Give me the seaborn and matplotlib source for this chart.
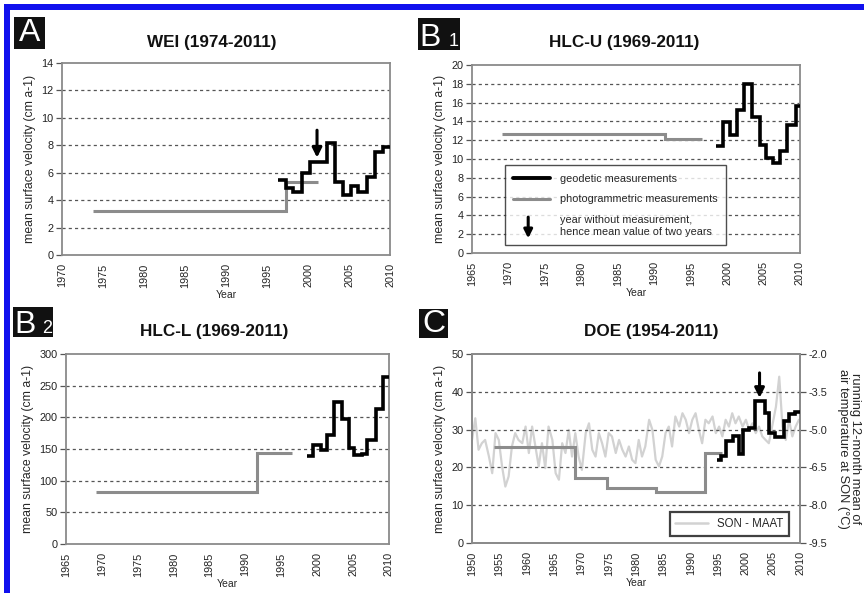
import numpy as np
import pandas as pd
import matplotlib
matplotlib.use("Agg")
import matplotlib.pyplot as plt
import seaborn as sns
from matplotlib.patches import Rectangle, FancyArrowPatch
from matplotlib.legend_handler import HandlerBase
from matplotlib.lines import Line2D
from matplotlib.ticker import MultipleLocator

# ---------------- data ----------------
# Panel A: WEI
a_geo_edges = [1996.3, 1997.3, 1998.2, 1999.3, 2000.2, 2002.3, 2003.3, 2004.3,
               2005.2, 2006.1, 2007.2, 2008.2, 2009.1, 2010.0]
a_geo_vals = [5.5, 4.9, 4.6, 6.0, 6.8, 8.2, 5.3, 4.4, 5.0, 4.6, 5.7, 7.5, 7.9]
a_photo_edges = [1973.8, 1997.3, 2001.2]
a_photo_vals = [3.2, 5.3]
a_arrow = (2001.1, 9.1, 7.1)

# Panel B1: HLC-U
b1_geo_edges = [1998.5, 1999.4, 2000.4, 2001.3, 2002.3, 2003.4, 2004.5, 2005.3,
                2006.3, 2007.2, 2008.2, 2009.4, 2010.0]
b1_geo_vals = [11.4, 13.9, 12.6, 15.2, 18.0, 14.5, 11.5, 10.1, 9.6, 10.8, 13.6, 15.6]
b1_photo_edges = [1969.1, 1991.5, 1996.6]
b1_photo_vals = [12.7, 12.1]

# Panel B2: HLC-L
b2_geo_edges = [1998.6, 1999.4, 2000.5, 2001.3, 2002.3, 2003.4, 2004.4, 2005.1,
                2006.2, 2007.0, 2008.2, 2009.2, 2010.0]
b2_geo_vals = [139, 156, 148, 172, 224, 197, 151, 140, 142, 164, 213, 263]
b2_photo_edges = [1969.2, 1991.6, 1996.5]
b2_photo_vals = [82, 144]

# Panel C: DOE
c_geo_edges = [1994.8, 1995.6, 1996.5, 1997.7, 1998.8, 1999.5, 2000.7, 2001.7,
               2003.6, 2004.3, 2005.4, 2007.0, 2008.0, 2009.0, 2010.0]
c_geo_vals = [21.9, 23.0, 27.0, 28.2, 23.5, 29.8, 30.3, 37.5, 34.3, 29.0, 28.0,
              32.2, 34.0, 34.6]
c_photo_edges = [1954.0, 1968.8, 1974.7, 1983.6, 1992.6, 1995.7]
c_photo_vals = [25.4, 17.3, 14.5, 13.4, 23.8]
c_arrow = (2002.6, 45.0, 38.4)

son_years = [
    1950.0, 1950.6, 1951.2, 1951.8, 1952.4, 1953.1, 1953.7, 1954.3, 1954.9, 1955.5,
    1956.1, 1956.7, 1957.3, 1957.9, 1958.5, 1959.2, 1959.8, 1960.4, 1961.0, 1961.6,
    1962.2, 1962.8, 1963.4, 1964.0, 1964.7, 1965.3, 1965.9, 1966.5, 1967.1, 1967.7,
    1968.3, 1968.9, 1969.5, 1970.1, 1970.8, 1971.4, 1972.0, 1972.6, 1973.2, 1973.8,
    1974.4, 1975.0, 1975.6, 1976.3, 1976.9, 1977.5, 1978.1, 1978.7, 1979.3, 1979.9,
    1980.5, 1981.1, 1981.7, 1982.4, 1983.0, 1983.6, 1984.2, 1984.8, 1985.4, 1986.0,
    1986.6, 1987.2, 1987.9, 1988.5, 1989.1, 1989.7, 1990.3, 1990.9, 1991.5, 1992.1,
    1992.7, 1993.3, 1994.0, 1994.6, 1995.2, 1995.8, 1996.4, 1997.0, 1997.6, 1998.2,
    1998.8, 1999.5, 2000.1, 2000.7, 2001.3, 2001.9, 2002.5, 2003.1, 2003.7, 2004.3,
    2004.9, 2005.6, 2006.2, 2006.8, 2007.4, 2008.0, 2008.6, 2009.2, 2009.8]
son_temp = [
    -5.41, -4.55, -5.80, -5.54, -5.41, -6.07, -6.73, -5.14, -5.41, -6.46,
    -7.26, -6.86, -5.67, -5.14, -5.41, -5.54, -4.88, -5.93, -4.88, -5.67,
    -6.46, -5.54, -6.53, -4.88, -5.41, -6.73, -6.99, -5.54, -5.93, -5.01,
    -6.07, -5.14, -6.07, -6.60, -5.14, -4.75, -5.80, -6.07, -5.14, -5.54,
    -6.07, -5.14, -5.27, -5.93, -5.41, -5.80, -6.07, -5.67, -6.20, -6.33,
    -5.41, -6.07, -5.67, -4.61, -5.01, -6.20, -6.46, -6.07, -5.14, -4.88,
    -5.67, -4.48, -4.88, -4.35, -4.61, -5.14, -4.61, -4.35, -5.01, -5.54,
    -4.61, -4.75, -4.48, -5.14, -4.88, -5.27, -4.61, -4.88, -4.35, -4.75,
    -4.48, -4.88, -4.61, -5.01, -4.75, -5.14, -4.88, -5.27, -5.41, -5.54,
    -4.88, -4.09, -2.90, -4.88, -5.41, -4.61, -5.27, -4.88, -4.61]

legend_labels = ["geodetic measurements", "photogrammetric measurements",
                 "year without measurement,\nhence mean value of two years"]

# ---------------- styling ----------------
sns.set_style("white")
plt.rcParams["font.family"] = ["Liberation Sans", "DejaVu Sans"]

W, H = 864, 593
fig = plt.figure(figsize=(W / 100, H / 100), dpi=100)
fig.patch.set_facecolor("white")

BLACK = "#000000"
PHOTO = "#8c8c8c"
SON = "#d2d2d2"
SPINE = "#8a8a8a"


def rect(l, t, r, b):
    return [l / W, 1 - b / H, (r - l) / W, (b - t) / H]


def step(ax, edges, vals, color, lw, z):
    df = pd.DataFrame({"year": edges, "v": list(vals) + [vals[-1]]})
    sns.lineplot(data=df, x="year", y="v", ax=ax, color=color, lw=lw,
                 drawstyle="steps-post", estimator=None, sort=False,
                 legend=False, zorder=z, solid_joinstyle="miter",
                 solid_capstyle="butt")


def style(ax, xlim, xstep, ylim, ystep):
    ax.set_xlim(*xlim)
    ax.set_ylim(*ylim)
    xt = np.arange(xlim[0], xlim[1] + 1, xstep)
    ax.set_xticks(xt)
    ax.set_xticklabels([str(int(v)) for v in xt], rotation=90, fontsize=7.8,
                       color="#222")
    ax.xaxis.set_minor_locator(MultipleLocator(1))
    yt = np.arange(ylim[0], ylim[1] + ystep / 2, ystep)
    ax.set_yticks(yt)
    ax.set_yticklabels([f"{v:g}" for v in yt], fontsize=7.8, color="#222")
    ax.tick_params(axis="x", which="major", direction="inout", length=6,
                   width=0.9, color="#555", pad=3)
    ax.tick_params(axis="x", which="minor", direction="inout", length=3.5,
                   width=0.7, color="#555")
    ax.tick_params(axis="y", which="major", direction="out", length=4,
                   width=0.9, color="#555", pad=2, left=True)
    for y in yt[1:-1]:
        ax.axhline(y, color="#555", lw=0.9, ls=(0, (2.5, 2.5)), zorder=1)
    for s in ax.spines.values():
        s.set_color(SPINE)
        s.set_linewidth(1.3)
    ax.set_xlabel("Year", fontsize=7.5, labelpad=2)
    ax.set_ylabel("mean surface velocity (cm a-1)", fontsize=8.8, labelpad=4)


def arrow(ax, spec):
    x, y0, y1 = spec
    ax.annotate("", xy=(x, y1), xytext=(x, y0),
                arrowprops=dict(arrowstyle="-|>", color="black", lw=2.2,
                                mutation_scale=14, shrinkA=0, shrinkB=0),
                zorder=6)


# Panel A
axA = fig.add_axes(rect(62, 63, 390, 255))
step(axA, a_photo_edges, a_photo_vals, PHOTO, 2.2, 3)
step(axA, a_geo_edges, a_geo_vals, BLACK, 2.6, 4)
style(axA, (1970, 2010), 5, (0, 14), 2)
arrow(axA, a_arrow)

# Panel B1
axB1 = fig.add_axes(rect(472, 65, 800, 253))
step(axB1, b1_photo_edges, b1_photo_vals, PHOTO, 2.2, 3)
step(axB1, b1_geo_edges, b1_geo_vals, BLACK, 2.6, 4)
style(axB1, (1965, 2010), 5, (0, 20), 2)


class HandlerArrow(HandlerBase):
    def create_artists(self, legend, orig_handle, xdescent, ydescent, width,
                       height, fontsize, trans):
        x = width * 0.4 - xdescent
        p = FancyArrowPatch((x, height * 1.7), (x, -height * 1.1),
                            arrowstyle="-|>", mutation_scale=fontsize * 1.6,
                            lw=2.2, color="black", transform=trans,
                            shrinkA=0, shrinkB=0)
        return [p]


class ArrowProxy:
    pass


h_geo = Line2D([], [], color=BLACK, lw=2.8)
h_photo = Line2D([], [], color=PHOTO, lw=2.2)
h_arr = ArrowProxy()
legB = axB1.legend([h_geo, h_photo, h_arr], legend_labels,
                   handler_map={ArrowProxy: HandlerArrow()},
                   loc="lower left", bbox_to_anchor=(0.10, 0.04),
                   fontsize=7.8, frameon=True, fancybox=False,
                   handlelength=3.4, labelspacing=1.0, borderpad=0.8,
                   handletextpad=0.9, borderaxespad=0)
legB.get_frame().set_edgecolor("#222")
legB.get_frame().set_linewidth(1.0)
legB.set_zorder(8)

# Panel B2
axB2 = fig.add_axes(rect(66, 354, 389, 544))
step(axB2, b2_photo_edges, b2_photo_vals, PHOTO, 2.2, 3)
step(axB2, b2_geo_edges, b2_geo_vals, BLACK, 2.6, 4)
style(axB2, (1965, 2010), 5, (0, 300), 50)

# Panel C
axC = fig.add_axes(rect(472, 354, 800, 543))
axT = axC.twinx()
son_df = pd.DataFrame({"year": son_years, "temp": son_temp})
sns.lineplot(data=son_df, x="year", y="temp", ax=axT, color=SON, lw=1.6,
             estimator=None, sort=False, legend=False)
axT.set_ylim(-9.5, -2.0)
rt = np.arange(-9.5, -1.95, 1.5)
axT.set_yticks(rt)
axT.set_yticklabels([f"{v:.1f}" for v in rt], fontsize=7.8, color="#222")
axT.tick_params(axis="y", direction="out", length=4, width=0.9, color="#555",
                pad=2, right=True)
axT.set_ylabel("running 12-month mean of\nair temperature at SON (°C)",
               rotation=270, fontsize=9.3, labelpad=24, linespacing=1.0)
for s in axT.spines.values():
    s.set_color(SPINE)
    s.set_linewidth(1.3)
axT.grid(False)

axC.set_zorder(axT.get_zorder() + 1)
axC.patch.set_visible(False)
step(axC, c_photo_edges, c_photo_vals, PHOTO, 2.2, 3)
step(axC, c_geo_edges, c_geo_vals, BLACK, 2.6, 4)
style(axC, (1950, 2010), 5, (0, 50), 10)
arrow(axC, c_arrow)
h_son = Line2D([], [], color=SON, lw=1.8)
legC = axC.legend([h_son], ["SON - MAAT"], loc="lower right",
                  bbox_to_anchor=(0.966, 0.037), fontsize=8.3, frameon=True,
                  fancybox=False, handlelength=2.8, borderpad=0.5,
                  borderaxespad=0)
legC.get_frame().set_edgecolor("#111")
legC.get_frame().set_linewidth(1.6)

# Titles
for (cx, cy, txt) in [(212, 42, "WEI (1974-2011)"), (624, 42, "HLC-U (1969-2011)"),
                      (214, 332, "HLC-L (1969-2011)"), (651, 332, "DOE (1954-2011)")]:
    fig.text(cx / W, 1 - cy / H, txt, ha="center", va="center", fontsize=12.3,
             fontweight="bold", color="#111")


# Panel label boxes
def label_box(l, t, r, b, letter, sub=None):
    fig.patches.append(Rectangle((l / W, 1 - b / H), (r - l) / W, (b - t) / H,
                                 transform=fig.transFigure, facecolor="#111",
                                 edgecolor="none", zorder=5))
    if sub is None:
        fig.text((l + r) / 2 / W, 1 - (t + b) / 2 / H, letter, ha="center",
                 va="center", fontsize=23, color="white", zorder=6)
    else:
        fig.text((l + 1) / W, 1 - (b - 4) / H, letter, ha="left",
                 va="baseline", fontsize=23, color="white", zorder=6)
        fig.text((r - 1) / W, 1 - (b - 4) / H, sub, ha="right",
                 va="baseline", fontsize=13, color="white", zorder=6)


label_box(14, 17, 45, 49, "A")
label_box(418, 18, 460, 50, "B", "1")
label_box(13, 307, 53, 337, "B", "2")
label_box(419, 309, 448, 338, "C")

# Blue frame of the source image
fig.patches.append(Rectangle((4 / W, 0), 6 / W, 1 - 4 / H, transform=fig.transFigure,
                             facecolor="#1010ee", edgecolor="none", zorder=10))
fig.patches.append(Rectangle((4 / W, 1 - 10 / H), 1 - 4 / W, 6 / H,
                             transform=fig.transFigure, facecolor="#1010ee",
                             edgecolor="none", zorder=10))

fig.savefig("out.png", dpi=100, facecolor="white")
